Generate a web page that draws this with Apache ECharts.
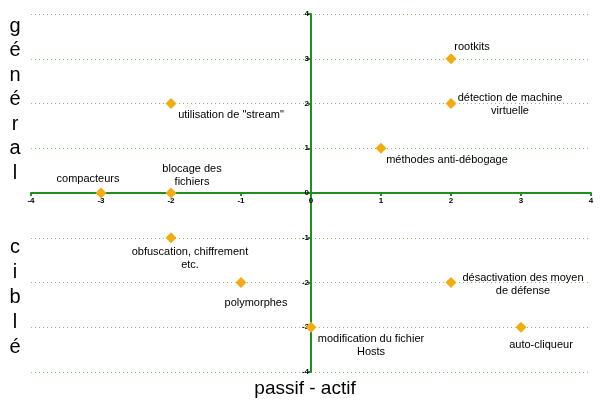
<!DOCTYPE html>
<html>
<head>
<meta charset="utf-8">
<script src="https://cdn.jsdelivr.net/npm/echarts@6/dist/echarts.min.js"></script>
<style>
  html, body { margin: 0; padding: 0; background: #fff; }
  #chart { width: 600px; height: 400px; }
</style>
</head>
<body>
<div id="chart"></div>
<script>
// points: technique name, passif/actif (x), ciblé/général (y)
const names = [
  'rootkits',
  'détection de machine\nvirtuelle',
  'méthodes anti-débogage',
  'utilisation de "stream"',
  'compacteurs',
  'blocage des\nfichiers',
  'obfuscation, chiffrement\netc.',
  'polymorphes',
  'désactivation des moyen\nde défense',
  'modification du fichier\nHosts',
  'auto-cliqueur'
]
const xs = [2, 2, 1, -2, -3, -2, -2, -1, 2, 0, 3]
const ys = [3, 2, 1, 2, 0, 0, -1, -2, -2, -3, -3]

const xTitle = 'passif - actif'
const yTitleTop = 'général'
const yTitleBottom = 'ciblé'

// label offsets (px) from the marker centre
const labelOffsets = [
  [21, -12], [59, 1], [66, 12], [60, 11], [-13, -14], [21, -18],
  [19, 21], [15, 20], [72, 2], [60, 18], [20, 18]
]

const GREEN = '#1f8f1f'
const font = '"Liberation Sans", Arial, sans-serif'
const plotW = 560, plotH = 358

const points = names.map((n, i) => ({
  name: n,
  value: [xs[i], ys[i]],
  label: { offset: labelOffsets[i] }
}))

const chart = echarts.init(document.getElementById('chart'), null, {
  devicePixelRatio: window.devicePixelRatio || 1
})

chart.setOption({
  animation: false,
  backgroundColor: '#fff',
  textStyle: { fontFamily: font },
  grid: { left: 31, right: 9, top: 14, bottom: 28 },
  xAxis: {
    type: 'value',
    min: -4, max: 4, interval: 1,
    offset: -plotH / 2,
    axisLine: { onZero: false, lineStyle: { color: GREEN, width: 2 } },
    axisTick: { show: true, length: 3, lineStyle: { color: GREEN, width: 2 } },
    axisLabel: { color: '#000', fontSize: 8, fontWeight: 'bold', margin: 4, fontFamily: font },
    splitLine: { show: false }
  },
  yAxis: {
    type: 'value',
    min: -4, max: 4, interval: 1,
    offset: -plotW / 2,
    axisLine: { onZero: false, lineStyle: { color: GREEN, width: 2 } },
    axisTick: { show: true, length: 3, lineStyle: { color: GREEN, width: 2 } },
    axisLabel: { color: '#000', fontSize: 8, fontWeight: 'bold', margin: 2, fontFamily: font },
    splitLine: { show: true, lineStyle: { color: '#7fc27f', type: [1, 3], width: 1 } }
  },
  graphic: [
    {
      type: 'text', x: 305, y: 379,
      style: { text: xTitle, fontSize: 19, fontFamily: font, fill: '#000', align: 'center' }
    },
    {
      type: 'text', x: 15, y: 14,
      style: {
        text: yTitleTop.split('').join('\n'), fontSize: 20, lineHeight: 24.5,
        fontFamily: font, fill: '#000', align: 'center'
      }
    },
    {
      type: 'text', x: 15, y: 235,
      style: {
        text: yTitleBottom.split('').join('\n'), fontSize: 20, lineHeight: 25,
        fontFamily: font, fill: '#000', align: 'center'
      }
    }
  ],
  series: [{
    type: 'scatter',
    symbol: 'diamond',
    symbolSize: 11,
    itemStyle: { color: '#f2ac12', opacity: 1 },
    data: points,
    label: {
      show: true,
      position: 'inside',
      formatter: p => p.name,
      color: '#000',
      fontSize: 11,
      lineHeight: 13,
      align: 'center',
      verticalAlign: 'middle',
      fontFamily: font
    },
    emphasis: { disabled: true }
  }]
})
</script>
</body>
</html>
